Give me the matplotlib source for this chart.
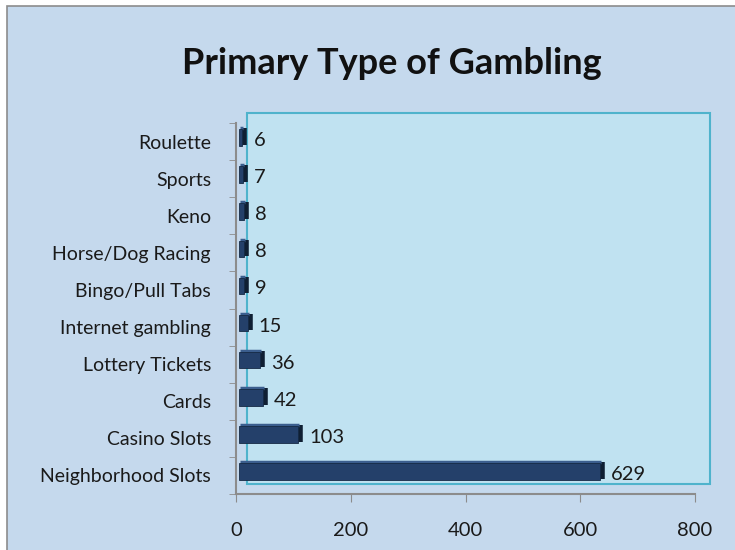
import matplotlib
matplotlib.use("Agg")
import matplotlib.pyplot as plt
import matplotlib.transforms as mtransforms
from matplotlib.patches import Rectangle
import numpy as np

categories = ["Neighborhood Slots", "Casino Slots", "Cards", "Lottery Tickets",
              "Internet gambling", "Bingo/Pull Tabs", "Horse/Dog Racing", "Keno",
              "Sports", "Roulette"]
values = [629, 103, 42, 36, 15, 9, 8, 8, 7, 6]
xticks = [0, 200, 400, 600, 800]
title = "Primary Type of Gambling"

W, H = 735, 550
plt.rcParams['font.family'] = ['Lato', 'DejaVu Sans']

fig = plt.figure(figsize=(W / 100, H / 100), dpi=100, facecolor="white")

# outer chart area
fig.patches.append(Rectangle((7 / W, -0.05), 1.1, 1 - 6 / H + 0.05,
                             transform=fig.transFigure, facecolor="#c5d9ed",
                             edgecolor="#8c8c8c", linewidth=1.2, zorder=0))
# back wall
bx0, bx1, by0, by1 = 247, 710, 484, 113
fig.patches.append(Rectangle((bx0 / W, 1 - by0 / H), (bx1 - bx0) / W, (by0 - by1) / H,
                             transform=fig.transFigure, facecolor="#c0e2f1",
                             edgecolor="#4fb3cc", linewidth=1.5, zorder=1))

ax = fig.add_axes([236 / W, 1 - 494 / H, (695 - 236) / W, (494 - 123) / H])
ax.set_facecolor("none")
ax.set_zorder(2)

y = np.arange(len(categories))
def off(dx, dy):
    return ax.transData + mtransforms.ScaledTranslation(dx / 100, dy / 100, fig.dpi_scale_trans)

h = 0.45
front = "#24406a"
ax.barh(y, values, height=h, color=front, edgecolor="#152a45",
        linewidth=0.6, transform=off(3, 4), zorder=3)
for yi, v in zip(y, values):
    # right-side cap and top face for a 3D look
    ax.plot([v, v], [yi - h / 2, yi + h / 2], color="#0f1f33",
            linewidth=4, solid_capstyle="butt", transform=off(5, 5), zorder=2.5)
    ax.plot([0, v], [yi + h / 2, yi + h / 2], color="#3b5e8e", linewidth=2.5,
            solid_capstyle="butt", transform=off(4, 5), zorder=2.5)
    ax.text(v, yi, f"{v}", transform=off(14, 1),
            va="center", ha="left", fontsize=14.5, color="#1a1a1a", zorder=4)

ax.set_xlim(0, 800)
ax.set_ylim(-0.5, len(categories) - 0.5)
ax.set_xticks(xticks)
ax.set_xticklabels([str(t) for t in xticks], fontsize=14.5, color="#1a1a1a")
ax.set_yticks(y)
ax.set_yticklabels(categories, fontsize=14, color="#1a1a1a")
ax.set_yticks(np.arange(-0.5, len(categories), 1), minor=True)
ax.tick_params(axis="y", which="major", length=0, pad=18)
ax.tick_params(axis="y", which="minor", length=5, color="#8c8c8c", direction="out")
ax.tick_params(axis="x", length=6, color="#8c8c8c", direction="out", pad=14)
for s in ["top", "right"]:
    ax.spines[s].set_visible(False)
for s in ["left", "bottom"]:
    ax.spines[s].set_color("#8c8c8c")
    ax.spines[s].set_linewidth(1.5)

fig.text(392 / W, 1 - 64 / H, title, ha="center", va="center",
         fontsize=26, fontweight="bold", color="#111111")

fig.savefig("out.png", dpi=100, facecolor=fig.get_facecolor())
